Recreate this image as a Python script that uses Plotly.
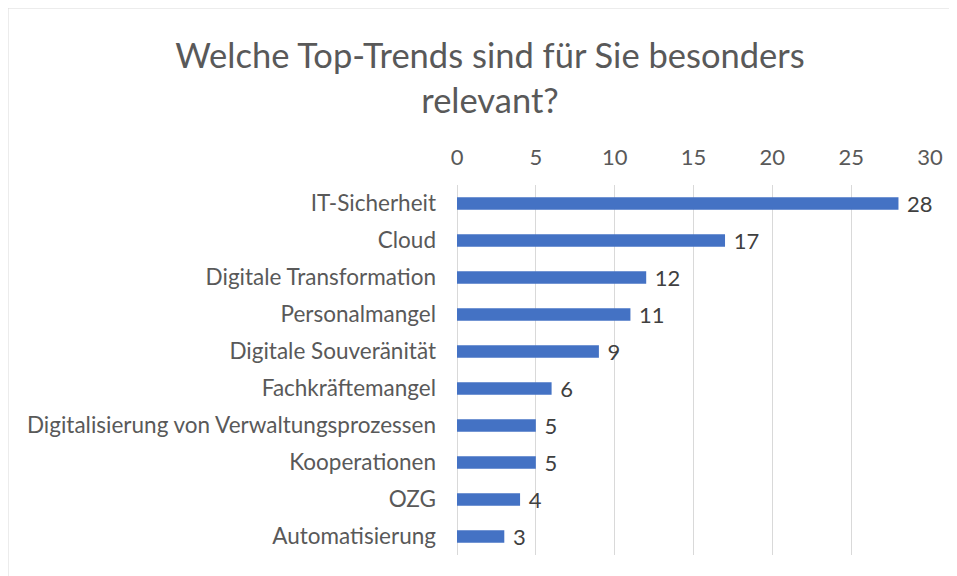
import plotly.graph_objects as go

categories = ["IT-Sicherheit", "Cloud", "Digitale Transformation", "Personalmangel",
              "Digitale Souveränität", "Fachkräftemangel",
              "Digitalisierung von Verwaltungsprozessen", "Kooperationen", "OZG",
              "Automatisierung"]
values = [28, 17, 12, 11, 9, 6, 5, 5, 4, 3]
tick_vals = [0, 5, 10, 15, 20, 25, 30]

OFF = 8  # page body margin
W, H = 957, 576
L, R, T, B = 457 - OFF, 27 + OFF, 185 - OFF, 21 + OFF
pw, ph = W - L - R, H - T - B

FONT = "Lato"

fig = go.Figure(go.Bar(
    x=values, y=categories, orientation="h",
    marker=dict(color="#4472C4", line=dict(width=0)),
    text=[f" {v}" for v in values], textposition="outside",
    textfont=dict(family=FONT, size=22, color="#404040"),
    constraintext="none",
    cliponaxis=False, width=0.34,
))

fig.update_layout(
    width=W, height=H,
    margin=dict(l=L, r=R, t=T, b=B, autoexpand=False),
    paper_bgcolor="white", plot_bgcolor="white",
    showlegend=False,
    title=dict(text="Welche Top-Trends sind für Sie besonders<br>relevant?",
               x=(490 - OFF) / W, xanchor="center", xref="container",
               y=1 - (68 - OFF) / H, yanchor="top", yref="container",
               font=dict(family=FONT, size=34.5, color="#595959")),
    xaxis=dict(side="top", range=[0, 30], tickvals=tick_vals,
               showgrid=True, gridcolor="#D9D9D9", gridwidth=1,
               zeroline=True, zerolinecolor="#D9D9D9", zerolinewidth=1,
               showline=False, ticks="", ticklabelstandoff=15,
               tickfont=dict(family=FONT, size=22, color="#595959")),
    yaxis=dict(autorange="reversed", showgrid=False, showline=False, ticks="",
               ticklabelstandoff=20,
               tickfont=dict(family=FONT, size=22.5, color="#595959")),
    shapes=[dict(type="rect", xref="paper", yref="paper",
                 x0=(8 - OFF - L) / pw, x1=(955 - OFF - L) / pw,
                 y0=(H - B - 600) / ph, y1=(H - B - 8 + OFF) / ph,
                 line=dict(color="#D9D9D9", width=1), layer="below")],
)

fig.write_html("out.html")
